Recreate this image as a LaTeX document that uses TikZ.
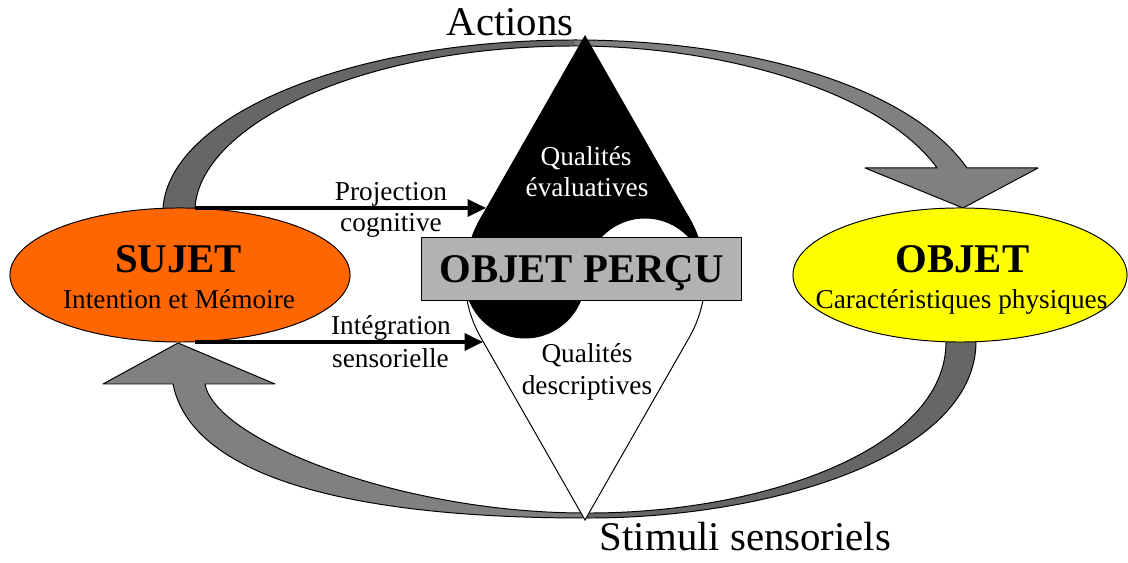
\documentclass[tikz,border=0pt]{standalone}
\usepackage{fontspec}
\setmainfont{Liberation Serif}
\usetikzlibrary{shapes.geometric, arrows.meta, positioning, calc}
\definecolor{sujetorange}{RGB}{255, 102, 0}
\definecolor{objetyellow}{RGB}{255, 255, 0}
\definecolor{percugray}{RGB}{178, 178, 178}
\definecolor{ribbondark}{RGB}{102, 102, 102}
\definecolor{ribbonlight}{RGB}{128, 128, 128}

\begin{document}
\begin{tikzpicture}[
  x=0.025cm, y=0.025cm,
  txtbold/.style={font=\fontsize{29}{33}\selectfont\bfseries, inner sep=0pt, anchor=base},
  txtbig/.style={font=\fontsize{29}{33}\selectfont, inner sep=0pt, anchor=base},
  txtsmall/.style={font=\fontsize{19.4}{22}\selectfont, inner sep=0pt, anchor=base},
  blob/.style={ellipse, draw=black, line width=0.7pt, inner sep=0pt, minimum height=3.35cm},
  ribbonline/.style={draw=black, line width=0.7pt, line join=round},
  flow/.style={line width=2.4pt, -{Triangle[length=13pt, width=12pt]}}
]
  \useasboundingbox (0,0) rectangle (1128,563);

  % Actions ribbon
  \fill[ribbondark] (163,355) .. controls (170,448) and (350,523) .. (575,523) -- (575,517) .. controls (360,517) and (200,438) .. (195,355) -- cycle;
  \fill[ribbonlight] (575,523) .. controls (740,523) and (907,480) .. (967,395) -- (1038,395) -- (963,355) -- (865,395) -- (937,395) .. controls (885,468) and (730,517) .. (575,517) -- cycle;
  \draw[ribbonline] (163,355) .. controls (170,448) and (350,523) .. (575,523) .. controls (740,523) and (907,480) .. (967,395) -- (1038,395) -- (963,355) -- (865,395) -- (937,395) .. controls (885,468) and (730,517) .. (575,517) .. controls (360,517) and (200,438) .. (195,355);

  % Stimuli ribbon
  \fill[ribbondark] (976,221) .. controls (975,103) and (760,44) .. (585,45) -- (585,50) .. controls (760,49) and (946,113) .. (946,221) -- cycle;
  \fill[ribbonlight] (585,45) .. controls (330,45) and (190,93) .. (173,179) -- (103,179) -- (178,220) -- (275,179) -- (205,179) .. controls (215,123) and (400,50) .. (585,50) -- cycle;
  \draw[ribbonline] (976,221) .. controls (975,103) and (760,44) .. (585,45) .. controls (330,45) and (190,93) .. (173,179) -- (103,179) -- (178,220) -- (275,179) -- (205,179) .. controls (215,123) and (400,50) .. (585,50) .. controls (760,49) and (946,113) .. (946,221);

  \node[blob, fill=sujetorange, minimum width=8.5cm] (sujet) at (180,288) {};
  \node[blob, fill=objetyellow, minimum width=8.35cm] (objet) at (960,288) {};

  % perceived object
  \coordinate (pc) at (585,285);
  \coordinate (apexT) at (585,527);
  \coordinate (apexB) at (585,43);
  \filldraw[fill=white, draw=black, line width=0.7pt] (apexB) -- ($(pc)+(209.73:120)$) arc[start angle=209.73, end angle=-29.73, radius=120] -- cycle;
  \filldraw[black, line width=0.7pt] (apexT) -- ($(pc)+(150.27:120)$) arc[start angle=150.27, end angle=180, radius=120] arc[start angle=180, end angle=360, radius=60] arc[start angle=180, end angle=0, radius=60] arc[start angle=0, end angle=29.73, radius=120] -- cycle;

  \node[draw=black, line width=0.7pt, fill=percugray, minimum width=7.975cm, minimum height=1.55cm, inner sep=0pt, text depth=0pt, font=\fontsize{29}{33}\selectfont\bfseries] (percu) at (581.5,294) {OBJET PERÇU};

  \node[txtsmall, text=white] (evalA) at (586,397) {Qualités};
  \node[txtsmall, text=white] (evalB) at (587,366) {évaluatives};
  \node[txtsmall] (descA) at (587,200) {Qualités};
  \node[txtsmall] (descB) at (587,168) {descriptives};

  \node[txtbold] (sujetname) at (178.5,290) {SUJET};
  \node[txtsmall] (sujetsub) at (179,254) {Intention et Mémoire};
  \node[txtbold] (objetname) at (962.5,290) {OBJET};
  \node[txtsmall] (objetsub) at (961.5,254) {Caractéristiques physiques};

  \node[txtbig] (actions) at (510,527) {Actions};
  \node[txtbig] (stimuli) at (745.5,12) {Stimuli sensoriels};

  \coordinate (projstart) at (195,355);
  \coordinate (projend) at (486,355);
  \coordinate (intstart) at (195,221);
  \coordinate (intend) at (483,221);
  \draw[flow] (projstart) -- (projend);
  \draw[flow] (intstart) -- (intend);
  \node[txtsmall] (projA) at (391,362) {Projection};
  \node[txtsmall] (projB) at (391,331) {cognitive};
  \node[txtsmall] (intA) at (391,228) {Intégration};
  \node[txtsmall] (intB) at (390.5,195) {sensorielle};
\end{tikzpicture}
\end{document}
